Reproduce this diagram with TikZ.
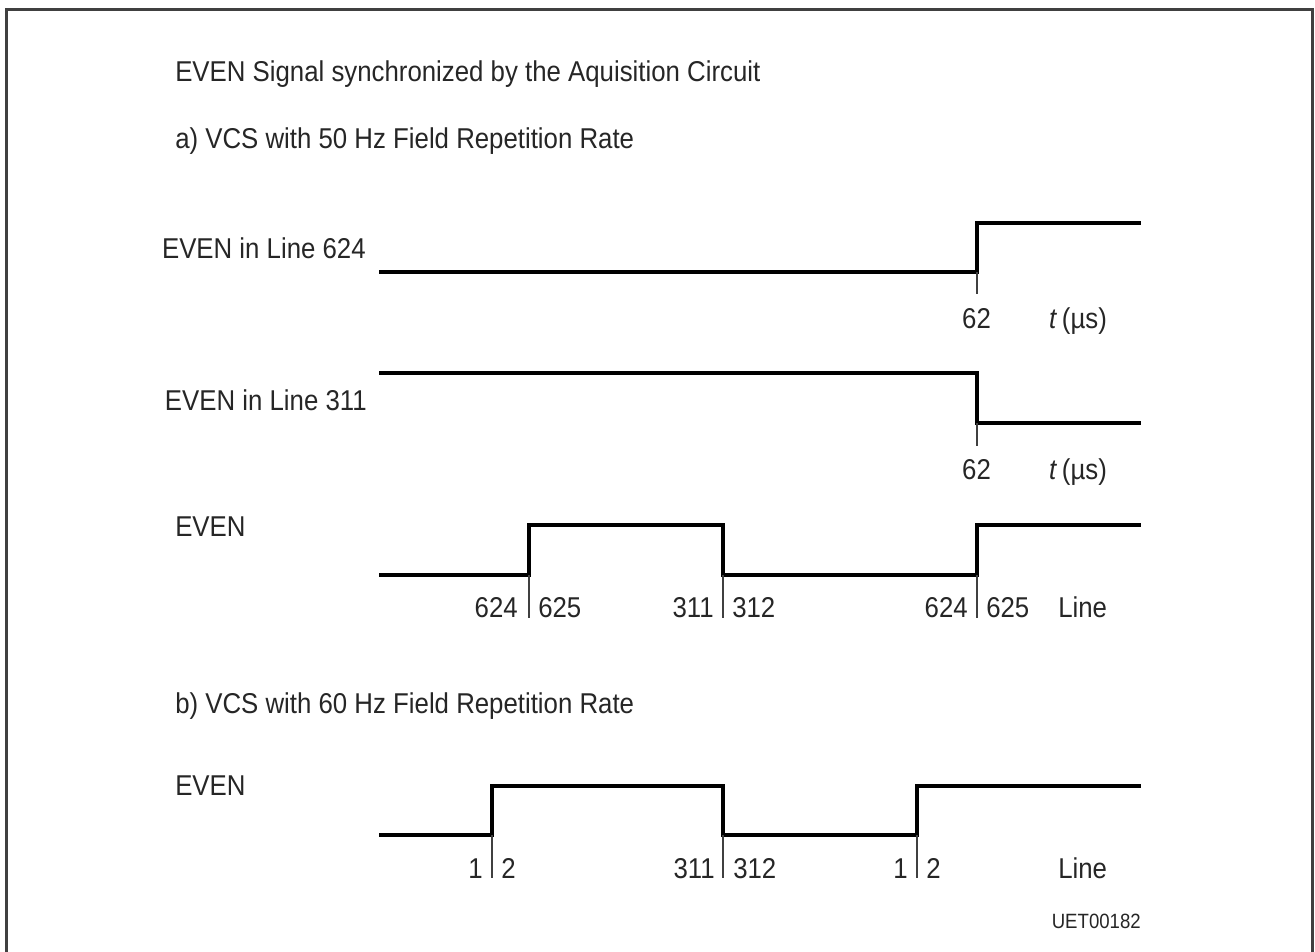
\documentclass[tikz,border=0pt]{standalone}
\usepackage{fontspec}
\setmainfont{Liberation Sans}[FakeStretch=0.9]
\begin{document}
\begin{tikzpicture}[x=0.75pt,y=-0.75pt,
  sig/.style={line width=3.4pt,line join=miter,line cap=butt,black},
  tickmark/.style={line width=1pt,black!75},
  lbl/.style={inner sep=0pt,font=\fontsize{21.5}{25}\selectfont,text=black!85},
  small/.style={inner sep=0pt,font=\fontsize{15.5}{18}\selectfont,text=black!85},
  frame/.style={line width=2.3pt,black!75}]
\useasboundingbox (0,0) rectangle (1315,951);
\draw[frame] (6.5,980) -- (6.5,9.5) -- (1312.5,9.5) -- (1312.5,980);

% headings
\node[lbl,anchor=base west] (title) at (175,81) {EVEN Signal synchronized by the Aquisition Circuit};
\node[lbl,anchor=base west] (parta) at (175,148) {a) VCS with 50 Hz Field Repetition Rate};
\node[lbl,anchor=base west] (partb) at (175,713) {b) VCS with 60 Hz Field Repetition Rate};

% signal 1: EVEN in Line 624
\node[lbl,anchor=base east] (l1) at (366,258) {EVEN in Line 624};
\coordinate (s1a) at (379,272);
\coordinate (s1b) at (977,272);
\coordinate (s1c) at (977,223);
\coordinate (s1d) at (1141,223);
\draw[sig] (s1a) -- (s1b) -- (s1c) -- (s1d);
\coordinate (t1) at (977,294);
\draw[tickmark] (s1b) -- (t1);
\node[lbl,anchor=base] (n1) at (976.5,328) {62};
\node[lbl,anchor=base] (u1) at (1078,328) {\textit{t}\,(µs)};

% signal 2: EVEN in Line 311
\node[lbl,anchor=base east] (l2) at (367,410) {EVEN in Line 311};
\coordinate (s2a) at (379,373);
\coordinate (s2b) at (977,373);
\coordinate (s2c) at (977,423);
\coordinate (s2d) at (1141,423);
\draw[sig] (s2a) -- (s2b) -- (s2c) -- (s2d);
\coordinate (t2) at (977,446);
\draw[tickmark] (s2c) -- (t2);
\node[lbl,anchor=base] (n2) at (976.5,479) {62};
\node[lbl,anchor=base] (u2) at (1078,479) {\textit{t}\,(µs)};

% signal 3: EVEN (50 Hz)
\node[lbl,anchor=base west] (l3) at (175,536) {EVEN};
\coordinate (p1) at (379,575);
\coordinate (p2) at (529,575);
\coordinate (p3) at (529,525);
\coordinate (p4) at (723,525);
\coordinate (p5) at (723,575);
\coordinate (p6) at (977,575);
\coordinate (p7) at (977,525);
\coordinate (p8) at (1141,525);
\draw[sig] (p1) -- (p2) -- (p3) -- (p4) -- (p5) -- (p6) -- (p7) -- (p8);
\coordinate (q2) at (529,618);
\coordinate (q5) at (723,618);
\coordinate (q6) at (977,618);
\draw[tickmark] (p2) -- (q2);
\draw[tickmark] (p5) -- (q5);
\draw[tickmark] (p6) -- (q6);
\node[lbl,anchor=base east] (a1) at (518,617) {624};
\node[lbl,anchor=base west] (a2) at (538,617) {625};
\node[lbl,anchor=base east] (a3) at (714,617) {311};
\node[lbl,anchor=base west] (a4) at (732,617) {312};
\node[lbl,anchor=base east] (a5) at (968,617) {624};
\node[lbl,anchor=base west] (a6) at (986,617) {625};
\node[lbl,anchor=base west] (a7) at (1058,617) {Line};

% signal 4: EVEN (60 Hz)
\node[lbl,anchor=base west] (l4) at (175,795) {EVEN};
\coordinate (r1) at (379,835);
\coordinate (r2) at (492,835);
\coordinate (r3) at (492,786);
\coordinate (r4) at (723,786);
\coordinate (r5) at (723,835);
\coordinate (r6) at (917,835);
\coordinate (r7) at (917,786);
\coordinate (r8) at (1141,786);
\draw[sig] (r1) -- (r2) -- (r3) -- (r4) -- (r5) -- (r6) -- (r7) -- (r8);
\coordinate (w2) at (492,878);
\coordinate (w5) at (723,878);
\coordinate (w6) at (917,878);
\draw[tickmark] (r2) -- (w2);
\draw[tickmark] (r5) -- (w5);
\draw[tickmark] (r6) -- (w6);
\node[lbl,anchor=base east] (b1) at (483,878) {1};
\node[lbl,anchor=base west] (b2) at (501,878) {2};
\node[lbl,anchor=base east] (b3) at (715,878) {311};
\node[lbl,anchor=base west] (b4) at (733,878) {312};
\node[lbl,anchor=base east] (b5) at (908,878) {1};
\node[lbl,anchor=base west] (b6) at (926,878) {2};
\node[lbl,anchor=base west] (b7) at (1058,878) {Line};

\node[small,anchor=base east] (code) at (1141,928) {UET00182};
\end{tikzpicture}
\end{document}
